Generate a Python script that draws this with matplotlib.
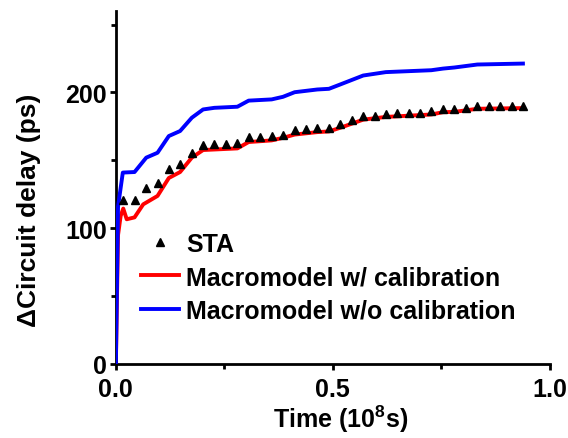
import matplotlib
matplotlib.use("Agg")
import matplotlib.pyplot as plt
from matplotlib.ticker import MultipleLocator, FormatStrFormatter

plt.rcParams['font.family'] = ['Liberation Sans', 'DejaVu Sans']
plt.rcParams['font.weight'] = 'bold'
plt.rcParams['mathtext.fontset'] = 'custom'
plt.rcParams['mathtext.rm'] = 'Liberation Sans:bold'
plt.rcParams['mathtext.bf'] = 'Liberation Sans:bold'

# STA reference samples
sta_time = [0.017, 0.043, 0.070, 0.096, 0.122, 0.148, 0.175, 0.201, 0.227,
            0.254, 0.280, 0.306, 0.333, 0.359, 0.385, 0.412, 0.438, 0.464,
            0.491, 0.517, 0.543, 0.570, 0.596, 0.622, 0.648, 0.675, 0.701,
            0.727, 0.754, 0.780, 0.806, 0.833, 0.859, 0.885, 0.912, 0.938]
sta_delay = [120.6, 121, 130, 133.6, 143.9, 147, 155.6, 161, 162,
             162, 163, 167, 167, 168, 169, 172, 173, 174,
             174, 176.5, 179.6, 183, 183, 184.5, 184.6, 185, 185,
             186, 187.5, 188, 188.7, 190, 190, 190, 190, 190]

# Macromodel with calibration
cal_time = [0, 0.005, 0.011, 0.017, 0.025, 0.043, 0.063, 0.096, 0.122,
            0.148, 0.175, 0.201, 0.227, 0.280, 0.306, 0.359, 0.385, 0.412,
            0.464, 0.491, 0.517, 0.570, 0.622, 0.727, 0.754, 0.780, 0.833,
            0.938]
cal_delay = [0, 95, 109, 114.5, 106.6, 108, 117.6, 123.8, 137,
             141.4, 152, 157.6, 158, 158.8, 163.5, 164.7, 166.6, 169,
             170.8, 171.3, 174, 180, 182, 183.8, 185.5, 185.7, 188,
             188.5]

# Macromodel without calibration
nocal_time = [0, 0.005, 0.016, 0.043, 0.070, 0.096, 0.122, 0.148, 0.175,
              0.201, 0.227, 0.280, 0.306, 0.359, 0.385, 0.412, 0.464, 0.491,
              0.517, 0.570, 0.622, 0.727, 0.754, 0.780, 0.833, 0.938]
nocal_delay = [0, 116, 141, 141.4, 152, 155.6, 167.9, 171.6, 181.4,
               187.5, 188.7, 189.5, 194, 194.9, 196.8, 200.2, 202.2, 202.7,
               205.9, 212.5, 215, 216.4, 217.6, 218.4, 220.6, 221.3]

fig = plt.figure(figsize=(5.68, 4.39), dpi=100)
ax = fig.add_axes([0.204, 0.1686, 0.764, 0.804])

ax.plot(cal_time, cal_delay, color='#ff0000', lw=2.8, zorder=2,
        label='Macromodel w/ calibration')
ax.plot(nocal_time, nocal_delay, color='#0000ff', lw=2.8, zorder=3,
        label='Macromodel w/o calibration')
ax.plot(sta_time, sta_delay, linestyle='none', marker='^', color='black',
        ms=5.5, zorder=4, label='STA')

ax.set_xlim(0, 1.0)
ax.set_ylim(0, 260)
ax.xaxis.set_major_locator(MultipleLocator(0.5))
ax.xaxis.set_minor_locator(MultipleLocator(0.25))
ax.yaxis.set_major_locator(MultipleLocator(100))
ax.yaxis.set_minor_locator(MultipleLocator(50))
ax.xaxis.set_major_formatter(FormatStrFormatter('%.1f'))

for side in ('top', 'right'):
    ax.spines[side].set_visible(False)
for side in ('left', 'bottom'):
    ax.spines[side].set_linewidth(2.0)

ax.tick_params(which='major', direction='out', length=4.5, width=2,
               labelsize=18)
ax.tick_params(axis='x', which='major', pad=5)
ax.tick_params(axis='y', which='major', pad=2)
ax.tick_params(which='minor', direction='out', length=3.5, width=2)

ax.set_xlabel('Time (10$^{\\mathbf{8}}$s)', fontsize=18, fontweight='bold',
              labelpad=1)
ax.set_ylabel('\u0394Circuit delay (ps)', fontsize=19, fontweight='bold',
              labelpad=17.5)
ax.xaxis.label.set_x(0.518)
ax.yaxis.label.set_y(0.439)

handles, labels = ax.get_legend_handles_labels()
order = [2, 0, 1]
leg = ax.legend([handles[i] for i in order], [labels[i] for i in order],
                loc='upper left', bbox_to_anchor=(0.058, 0.375),
                frameon=False, fontsize=18, handlelength=1.5,
                handletextpad=0.3, labelspacing=0.38, borderpad=0,
                borderaxespad=0)
for t in leg.get_texts():
    t.set_fontweight('bold')

fig.savefig('out.png', dpi=100)
